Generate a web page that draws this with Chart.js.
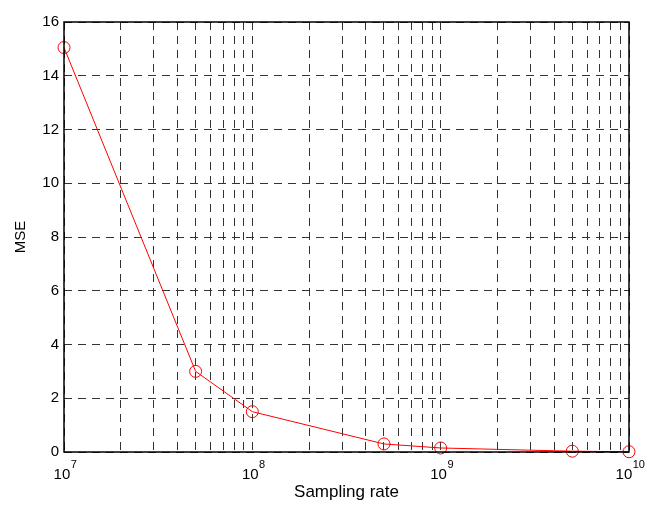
<!DOCTYPE html>
<html>
<head>
<meta charset="utf-8">
<script src="https://cdn.jsdelivr.net/npm/chart.js@4.4.0/dist/chart.umd.min.js"></script>
<style>
  html, body { margin: 0; padding: 0; background: #fff; }
  #wrap { width: 646px; height: 507px; }
</style>
</head>
<body>
<div id="wrap"><canvas id="c" width="646" height="507"></canvas></div>
<script>
// sampling rates and measured error
const rates = [1e7, 5e7, 1e8, 5e8, 1e9, 5e9, 1e10];
const mse = [15.05, 3.0, 1.5, 0.3, 0.15, 0.03, 0.01];
const decades = [7, 8, 9, 10];
const yTicks = [0, 2, 4, 6, 8, 10, 12, 14, 16];

const FONT = "'Liberation Sans', Arial, sans-serif";

// every 1..9 x 10^n between the decades, for the minor grid
function logTicks() {
    const out = [];
    for (let i = 0; i < decades.length; i++) {
        const base = Math.pow(10, decades[i]);
        if (i === decades.length - 1) { out.push({ value: base }); break; }
        for (let m = 1; m < 10; m++) out.push({ value: m * base });
    }
    return out;
}

const framePlugin = {
    id: 'frame',
    afterDraw(chart) {
        const { ctx, chartArea: a, scales } = chart;
        ctx.save();
        ctx.strokeStyle = '#000';
        ctx.lineWidth = 1.5;
        ctx.strokeRect(a.left, a.top, a.right - a.left, a.bottom - a.top);

        // x tick labels as 10^n with superscripts, centred on the tick
        ctx.fillStyle = '#000';
        ctx.textBaseline = 'alphabetic';
        ctx.textAlign = 'left';
        decades.forEach(function(d) {
            const x = scales.x.getPixelForValue(Math.pow(10, d));
            ctx.font = '15px ' + FONT;
            const w1 = ctx.measureText('10').width;
            ctx.font = '11px ' + FONT;
            const w2 = ctx.measureText(String(d)).width;
            const x0 = x - (w1 + w2) / 2 + 1;
            ctx.font = '15px ' + FONT;
            ctx.fillText('10', x0, a.bottom + 27);
            ctx.font = '11px ' + FONT;
            ctx.fillText(String(d), x0 + w1 + 0.5, a.bottom + 16);
        });

        ctx.font = '17px ' + FONT;
        ctx.textAlign = 'center';
        ctx.fillText('Sampling rate', (a.left + a.right) / 2, a.bottom + 45);
        ctx.restore();
    }
};

new Chart(document.getElementById('c'), {
    type: 'line',
    data: {
        datasets: [{
            data: rates.map((r, i) => ({ x: r, y: mse[i] })),
            borderColor: '#ff0000',
            borderWidth: 1,
            pointStyle: 'circle',
            pointRadius: 6,
            pointBorderColor: '#ff0000',
            pointBackgroundColor: 'rgba(0,0,0,0)',
            pointBorderWidth: 1,
            tension: 0,
            clip: false
        }]
    },
    options: {
        responsive: false,
        animation: false,
        events: [],
        layout: { padding: { top: 22, right: 17, left: 0, bottom: 0 } },
        plugins: { legend: { display: false }, tooltip: { enabled: false } },
        scales: {
            x: {
                type: 'logarithmic',
                min: 1e7,
                max: 1e10,
                afterBuildTicks: function(scale) { scale.ticks = logTicks(); },
                afterFit: function(scale) { scale.height = 55; },
                ticks: { display: false },
                grid: { color: '#333', lineWidth: 1, drawTicks: false },
                border: { display: false, dash: [8, 6] }
            },
            y: {
                min: 0,
                max: 16,
                afterBuildTicks: function(scale) { scale.ticks = yTicks.map(v => ({ value: v })); },
                afterFit: function(scale) { scale.width = 64; },
                ticks: {
                    color: '#000',
                    font: { family: FONT, size: 15 },
                    padding: 5
                },
                title: {
                    display: true,
                    text: 'MSE',
                    color: '#000',
                    font: { family: FONT, size: 15 },
                    padding: { top: 12, bottom: 0 }
                },
                grid: { color: '#333', lineWidth: 1, drawTicks: false },
                border: { display: false, dash: [8, 6] }
            }
        }
    },
    plugins: [framePlugin]
});
</script>
</body>
</html>
